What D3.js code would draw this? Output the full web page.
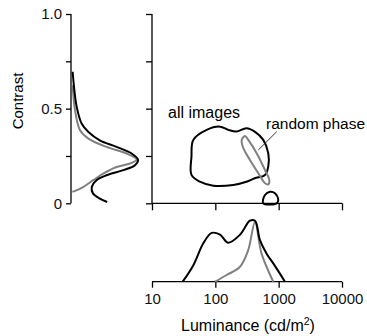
<!DOCTYPE html>
<head>
    <script src="https://d3js.org/d3.v7.min.js"></script>
    <style>
        body { margin: 0; background: #fff; }
        text { font-family: "Liberation Sans", Arial, sans-serif; }
    </style>
</head>

<body>
    <div id="chart"></div>
</body>

<script>
    // contrast marginal (left panel): [contrast, density]
    const contrastAll = [[0.695,0.025],[0.615,0.045],[0.51,0.085],[0.42,0.16],[0.377,0.26],[0.333,0.43],
        [0.298,0.68],[0.263,0.905],[0.231,1.0],[0.201,0.955],[0.175,0.78],[0.148,0.53],[0.122,0.38],
        [0.086,0.31],[0.051,0.33],[0.025,0.43],[0.007,0.54]];
    const contrastPhase = [[0.624,0.025],[0.492,0.06],[0.386,0.135],[0.342,0.26],[0.298,0.53],[0.263,0.83],
        [0.231,0.98],[0.21,0.88],[0.192,0.68],[0.157,0.48],[0.122,0.33],[0.086,0.18],[0.06,0.02]];

    // luminance marginal (bottom panel): [luminance, density]
    const lumAll = [[30.5,0],[45,0.27],[64.6,0.63],[87.7,0.8],[118.7,0.77],[160,0.64],[245,0.77],
        [352,1.0],[423,1.0],[507,0.68],[646,0.46],[822,0.3],[1259,0]];
    const lumPhase = [[99,0],[151,0.11],[245,0.245],[331,0.52],[423,0.98],[537,0.46],[822,0]];

    // joint contours: [luminance, contrast]
    const contourAll = [[44.9,0.335],[73,0.388],[118.6,0.405],[160,0.388],[215,0.379],[310,0.397],
        [418,0.379],[571,0.335],[685,0.265],[685,0.194],[608,0.15],[418,0.132],[310,0.114],
        [192,0.097],[93,0.093],[57,0.114],[42,0.15],[42,0.247]];
    const contourBlob = [[571,0],[608,0.044],[730,0.061],[875,0.053],[986,0.017],[931,0]];
    const contourPhase = [[261,0.335],[294,0.356],[331,0.335],[449,0.265],[608,0.176],[711,0.123],
        [685,0.1],[608,0.106],[477,0.159],[352,0.229],[277,0.291]];

    const contrastTicks = [0, 0.25, 0.5, 0.75, 1.0];
    const contrastLabels = {0: "0", 0.5: "0.5", 1: "1.0"};
    const lumTicks = [10, 100, 1000, 10000];

    const W = 367, H = 336;
    const black = "#000", gray = "#808080";

    const svg = d3.select("#chart").append("svg")
        .attr("width", W).attr("height", H);

    // scales
    const y = d3.scaleLinear().domain([0, 1]).range([203.3, 14]);
    const x = d3.scaleLog().domain([10, 10000]).range([152, 342]);
    const dx = d3.scaleLinear().domain([0, 1]).range([71, 138]);     // left density
    const dy = d3.scaleLinear().domain([0, 1]).range([281.7, 220.7]); // bottom density

    // left panel axis
    const leftAxis = svg.append("g")
        .attr("transform", "translate(71,0)")
        .call(d3.axisLeft(y).tickValues(contrastTicks).tickSize(5).tickPadding(4)
            .tickFormat(d => contrastLabels[d] || ""));

    // main panel y axis
    const mainY = svg.append("g")
        .attr("transform", "translate(152,0)")
        .call(d3.axisLeft(y).tickValues(contrastTicks).tickSize(6).tickFormat(""));

    // main panel x axis
    const mainX = svg.append("g")
        .attr("transform", `translate(0,${y(0)})`)
        .call(d3.axisBottom(x).tickValues(lumTicks).tickSize(7).tickFormat(""));

    // bottom panel x axis
    const botX = svg.append("g")
        .attr("transform", "translate(0,281.7)")
        .call(d3.axisBottom(x).tickValues(lumTicks).tickSize(6).tickPadding(6)
            .tickFormat(d3.format("d")));

    [leftAxis, mainY, mainX, botX].forEach(g => {
        g.select(".domain").attr("d", null);
        g.selectAll("line").attr("stroke", black).attr("stroke-width", 1.3);
        g.selectAll("text").attr("font-size", 15).attr("fill", "#111")
            .attr("font-family", "'Liberation Sans', Arial, sans-serif");
    });
    // domains as plain lines
    svg.append("line").attr("x1", 71).attr("x2", 71).attr("y1", y(1)).attr("y2", y(0))
        .attr("stroke", black).attr("stroke-width", 1.3);
    svg.append("line").attr("x1", 152).attr("x2", 152).attr("y1", y(1)).attr("y2", y(0))
        .attr("stroke", black).attr("stroke-width", 1.3);
    svg.append("line").attr("x1", x(10)).attr("x2", x(10000)).attr("y1", y(0)).attr("y2", y(0))
        .attr("stroke", black).attr("stroke-width", 1.3);
    svg.append("line").attr("x1", x(10)).attr("x2", x(10000)).attr("y1", 281.7).attr("y2", 281.7)
        .attr("stroke", black).attr("stroke-width", 1.3);

    // left density curves
    const leftLine = d3.line().x(d => dx(d[1])).y(d => y(d[0])).curve(d3.curveCatmullRom);
    svg.append("path").attr("d", leftLine(contrastPhase))
        .attr("fill", "none").attr("stroke", gray).attr("stroke-width", 2);
    svg.append("path").attr("d", leftLine(contrastAll))
        .attr("fill", "none").attr("stroke", black).attr("stroke-width", 2);

    // bottom density curves
    const botLine = d3.line().x(d => x(d[0])).y(d => dy(d[1])).curve(d3.curveCatmullRom);
    svg.append("path").attr("d", botLine(lumPhase))
        .attr("fill", "none").attr("stroke", gray).attr("stroke-width", 2);
    svg.append("path").attr("d", botLine(lumAll))
        .attr("fill", "none").attr("stroke", black).attr("stroke-width", 2);

    // joint contours
    const closed = d3.line().x(d => x(d[0])).y(d => y(d[1])).curve(d3.curveCatmullRomClosed);
    svg.append("path").attr("d", closed(contourAll))
        .attr("fill", "none").attr("stroke", black).attr("stroke-width", 2);
    svg.append("path").attr("d", closed(contourBlob))
        .attr("fill", "none").attr("stroke", black).attr("stroke-width", 2);
    svg.append("path").attr("d", closed(contourPhase))
        .attr("fill", "none").attr("stroke", gray).attr("stroke-width", 2);

    // labels
    svg.append("text").attr("x", 168).attr("y", 117.5).attr("font-size", 16)
        .text("all images");
    svg.append("text").attr("x", 266).attr("y", 129).attr("font-size", 15.5)
        .text("random phase");
    svg.append("line").attr("x1", 276.7).attr("y1", 131.7).attr("x2", 258.3).attr("y2", 150)
        .attr("stroke", "#333").attr("stroke-width", 1);

    svg.append("text")
        .attr("transform", "translate(23,101) rotate(-90)")
        .attr("text-anchor", "middle").attr("font-size", 15)
        .text("Contrast");

    const xt = svg.append("text").attr("x", 248).attr("y", 331)
        .attr("text-anchor", "middle").attr("font-size", 16)
        .text("Luminance (cd/m");
    xt.append("tspan").attr("dy", -6).attr("font-size", 10.5).text("2");
    xt.append("tspan").attr("dy", 6).text(")");
</script>
</html>
